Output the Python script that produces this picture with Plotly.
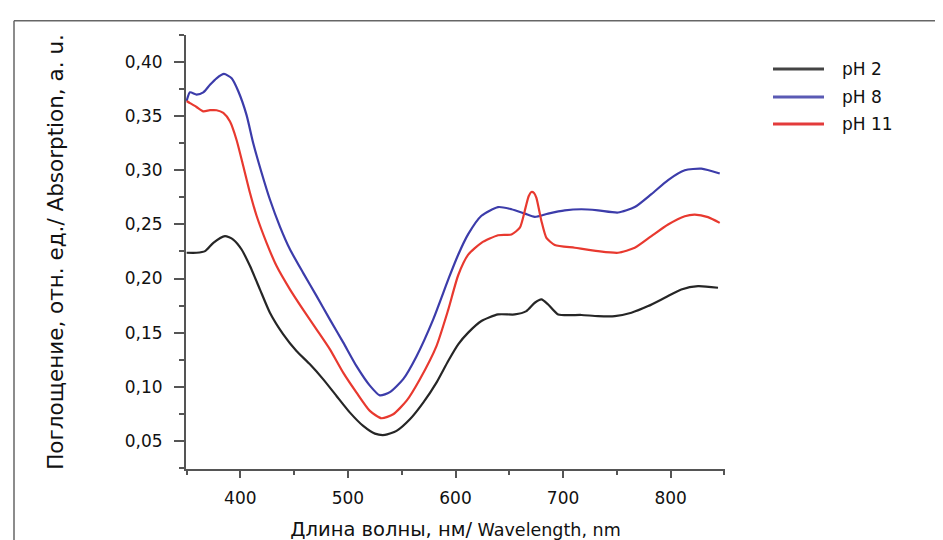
import plotly.graph_objects as go

# Data (wavelength nm, absorption a.u.)
wl_ph2 = [350.1, 359.3, 367.2, 374.9, 385.7, 393.4, 401.2, 409.0, 418.2, 427.5, 439.9, 452.2,
          464.7, 477.1, 489.4, 501.9, 514.2, 525.1, 534.4, 545.2, 557.6, 570.0, 582.3, 593.2,
          602.5, 611.8, 624.1, 639.6, 655.1, 665.9, 673.7, 679.9, 686.1, 695.4, 717.0, 732.5,
          748.1, 763.5, 779.0, 794.5, 809.9, 825.4, 844.0]
abs_ph2 = [0.2238, 0.2238, 0.2253, 0.2330, 0.2392, 0.2360, 0.2268, 0.2115, 0.1900, 0.1684, 0.1484, 0.1330,
           0.1207, 0.1068, 0.0915, 0.0761, 0.0638, 0.0567, 0.0555, 0.0592, 0.0699, 0.0853, 0.1038, 0.1238,
           0.1392, 0.1500, 0.1607, 0.1668, 0.1668, 0.1699, 0.1776, 0.1807, 0.1760, 0.1668, 0.1663, 0.1653,
           0.1653, 0.1684, 0.1745, 0.1822, 0.1899, 0.1930, 0.1915]

wl_ph8 = [350.1, 353.2, 359.3, 365.6, 371.8, 377.9, 384.8, 391.9, 398.1, 405.8, 412.0, 419.7,
          427.5, 436.8, 446.1, 458.5, 470.8, 483.3, 495.6, 508.0, 520.4, 529.7, 539.0, 551.4,
          563.7, 579.2, 594.0, 602.5, 611.8, 624.1, 639.6, 652.0, 664.4, 673.7, 686.1, 701.6,
          717.0, 732.5, 751.1, 766.6, 782.1, 797.6, 813.1, 828.5, 845.6]
abs_ph8 = [0.364, 0.372, 0.370, 0.372, 0.379, 0.385, 0.389, 0.385, 0.373, 0.351, 0.325, 0.298,
           0.273, 0.248, 0.227, 0.205, 0.184, 0.162, 0.141, 0.119, 0.101, 0.092, 0.095, 0.107,
           0.128, 0.162, 0.201, 0.222, 0.241, 0.258, 0.266, 0.264, 0.260, 0.257, 0.260, 0.263,
           0.264, 0.263, 0.261, 0.266, 0.278, 0.291, 0.300, 0.3015, 0.297]

wl_ph11 = [350.1, 353.2, 359.3, 365.6, 371.8, 377.9, 384.2, 390.4, 396.5, 402.7, 409.0, 415.1,
           424.4, 433.7, 446.1, 458.5, 470.8, 483.3, 495.6, 508.0, 520.4, 531.2, 542.1, 554.4,
           566.9, 582.3, 593.2, 602.5, 611.8, 624.1, 639.6, 652.0, 659.8, 665.0, 668.0, 670.6,
           673.0, 675.2, 679.9, 684.5, 692.3, 710.9, 732.5, 751.1, 766.6, 782.1, 797.6, 813.1,
           822.4, 834.7, 845.6]
abs_ph11 = [0.364, 0.362, 0.3585, 0.3545, 0.3555, 0.3555, 0.353, 0.345, 0.328, 0.304, 0.279, 0.258,
            0.233, 0.2115, 0.190, 0.171, 0.153, 0.1345, 0.113, 0.0946, 0.0777, 0.0709, 0.0746, 0.0869,
            0.107, 0.1376, 0.171, 0.203, 0.222, 0.233, 0.240, 0.2407, 0.247, 0.265, 0.276, 0.280,
            0.279, 0.2745, 0.253, 0.2376, 0.231, 0.2284, 0.2253, 0.2238, 0.2284, 0.2392, 0.2499, 0.2576,
            0.2591, 0.2567, 0.2514]

series_names = ["pH 2", "pH 8", "pH 11"]
series_colors = ["#262626", "#3c3caa", "#e8392f"]
legend_colors = ["#444444", "#5a5ab4", "#e33b3b"]

x_ticks = [400, 500, 600, 700, 800]
y_ticks = [0.05, 0.10, 0.15, 0.20, 0.25, 0.30, 0.35, 0.40]
y_ticklabels = ["0,05", "0,10", "0,15", "0,20", "0,25", "0,30", "0,35", "0,40"]

FONT = "DejaVu Sans"
W, H = 943, 540
L, R, T, B = 178, 226, 27, 78.5
PW, PH = W - L - R, H - T - B


def px_x(px):
    return (px - L) / PW


def px_y(py):
    return (H - B - py) / PH


fig = go.Figure()
for wl, ab, name, col in zip([wl_ph2, wl_ph8, wl_ph11], [abs_ph2, abs_ph8, abs_ph11],
                             series_names, series_colors):
    fig.add_trace(go.Scatter(x=wl, y=ab, mode="lines", name=name, showlegend=False,
                             line=dict(color=col, width=2.2, shape="spline", smoothing=0.6)))

axis_col = "#555555"
x_title = ('<span style="font-size:19.5px">Длина волны, нм/</span>'
           '<span style="font-size:17.5px"> Wavelength, nm</span>')
fig.update_layout(
    width=W, height=H,
    margin=dict(l=L, r=R, t=T, b=B, autoexpand=False),
    paper_bgcolor="white", plot_bgcolor="white",
    font=dict(family=FONT, size=17, color="#111111"),
    showlegend=False,
    xaxis=dict(range=[349.5, 850.5], tickvals=x_ticks, ticks="outside", ticklen=7, tickwidth=1.5,
               tickcolor=axis_col, showline=True, linecolor=axis_col, linewidth=2,
               showgrid=False, zeroline=False, ticklabelstandoff=6,
               minor=dict(dtick=50, tick0=350, ticks="outside", ticklen=4, tickwidth=1.5,
                          tickcolor=axis_col, showgrid=False),
               title=dict(text=x_title, standoff=16, font=dict(family=FONT, size=18))),
    yaxis=dict(range=[0.024, 0.425], tickvals=y_ticks, ticktext=y_ticklabels, ticks="outside",
               ticklen=10, tickwidth=1.5, tickcolor=axis_col, showline=True, linecolor=axis_col,
               linewidth=2, showgrid=False, zeroline=False, ticklabelstandoff=8,
               minor=dict(dtick=0.025, tick0=0.025, ticks="outside", ticklen=5, tickwidth=1.5,
                          tickcolor=axis_col, showgrid=False),
               title=dict(text="Поглощение, отн. ед./ Absorption, a. u.", standoff=55,
                          font=dict(family=FONT, size=21.5))),
)

# legend drawn as line samples + labels
legend_rows_px = [61, 89, 116]
for name, col, ypx in zip(series_names, legend_colors, legend_rows_px):
    fig.add_shape(type="line", xref="paper", yref="paper", x0=px_x(765), x1=px_x(816),
                  y0=px_y(ypx), y1=px_y(ypx), line=dict(color=col, width=3))
    fig.add_annotation(xref="paper", yref="paper", x=px_x(832), y=px_y(ypx), text=name,
                       showarrow=False, xanchor="left", yanchor="middle",
                       font=dict(family=FONT, size=17, color="#111111"))

# outer frame (top and left edges)
fig.add_shape(type="line", xref="paper", yref="paper", x0=px_x(6), x1=px_x(945), y0=px_y(12.7),
              y1=px_y(12.7), line=dict(color="#666666", width=1.5))
fig.add_shape(type="line", xref="paper", yref="paper", x0=px_x(6), x1=px_x(6), y0=px_y(12.7),
              y1=px_y(545), line=dict(color="#666666", width=1.5))

fig.write_html("out.html")
